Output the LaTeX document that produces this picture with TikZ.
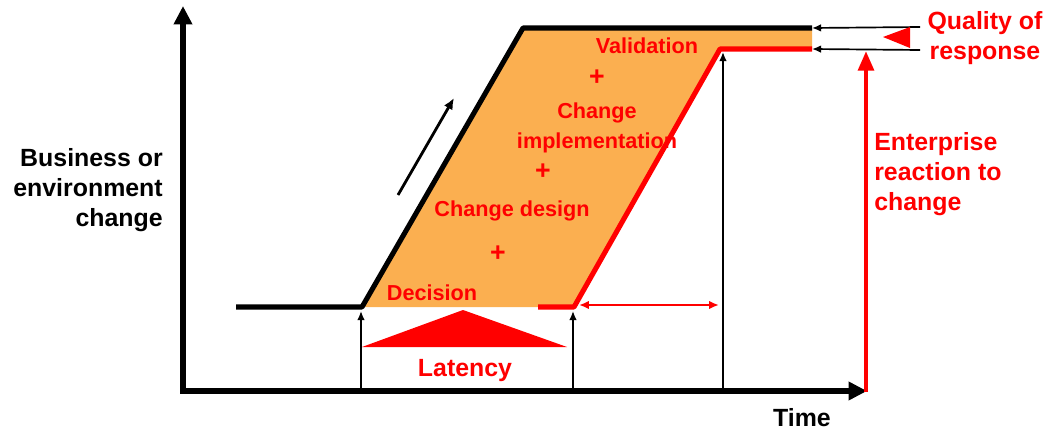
\documentclass[tikz,border=0pt]{standalone}
\usepackage{fontspec}
\setmainfont{Liberation Sans}
\usepackage{tikz}
\usetikzlibrary{arrows.meta}
\definecolor{latred}{RGB}{255,0,0}
\definecolor{phaseorange}{RGB}{251,175,80}

\begin{document}
\begin{tikzpicture}[x=0.025cm,y=-0.025cm,>=Latex,
  axis/.style={line width=4.2pt,-{Triangle[length=13pt,width=12.5pt]}},
  thinarrow/.style={line width=1.2pt,->,>={Latex[length=6.5pt,width=5.5pt]}},
  phase/.style={text=latred,font=\bfseries\fontsize{15.4}{21.3}\selectfont,align=center,inner sep=0pt},
  plus/.style={text=latred,font=\bfseries\fontsize{19}{21}\selectfont,inner sep=0pt},
  bigred/.style={text=latred,font=\bfseries\fontsize{17.7}{21.3}\selectfont,inner sep=0pt},
  bigblack/.style={text=black,font=\bfseries\fontsize{17.7}{21.3}\selectfont,inner sep=0pt}]
\useasboundingbox (0,0) rectangle (1048,433);

% corner points of the response curve
\coordinate (origin) at (183,391);
\coordinate (ytop) at (183,6);
\coordinate (xend) at (867,391);
\coordinate (base0) at (236,307);
\coordinate (trig) at (362,307);
\coordinate (top0) at (523,28);
\coordinate (top1) at (812,28);
\coordinate (react0) at (538,307);
\coordinate (react1) at (574,307);
\coordinate (done) at (720,49);
\coordinate (done1) at (812,49);

% the orange band
\fill[phaseorange] (trig) -- (top0) -- (top1) -- (done1) -- (done) -- (react1) -- cycle;

\draw[line width=3.6pt,line join=round] (base0) -- (trig) -- (top0) -- (top1);
\draw[latred,line width=3.6pt,line join=round] (react0) -- (react1) -- (done) -- (done1);

% axes
\draw[axis] (origin) -- (ytop);
\draw[axis] ([xshift=-2.1pt]origin) -- (xend);

% thin markers from the time axis
\foreach \x/\y in {361/311, 573/311, 723/52} {
\draw[thinarrow] (\x,389) -- (\x,\y); }

\draw[latred,line width=1.4pt,<->,>={Latex[length=7pt,width=6pt]}] (579,305) -- (719,305);

\coordinate (up0) at (398,195);
\coordinate (up1) at (454,98);
\draw[line width=2pt,->,>={Latex[length=8pt,width=7pt]}] (up0) -- (up1);

% latency triangle
\coordinate (latL) at (362,347);
\coordinate (latR) at (567,347);
\coordinate (latT) at (463,310);
\fill[latred] (latL) -- (latT) -- (latR) -- cycle;
\node[bigred] (latency) at (465,371) {Latency};

% phases
\node[phase] (decision) at (432,293) {Decision};
\node[plus] (plus1) at (498,254) {+};
\node[phase] (design) at (512,211) {Change design};
\node[plus] (plus2) at (543,172) {+};
\node[phase] (impl) at (597,128) {Change\\implementation};
\node[plus] (plus3) at (597,78) {+};
\node[phase] (valid) at (647,46) {Validation};

% quality of response
\coordinate (q0) at (920,27);
\coordinate (q1) at (920,50);
\draw[thinarrow] (q0) -- (top1);
\draw[thinarrow] (q1) -- (done1);
\fill[latred] (883,37) -- (910,27) -- (910,48) -- cycle;
\node[bigred,align=center] (quality) at (985,38) {Quality of\\response};

% enterprise reaction
\coordinate (reactbot) at (866,392);
\coordinate (reacttop) at (866,51);
\draw[latred,line width=3.2pt,-{Triangle[length=14pt,width=11pt]}] (reactbot) -- (reacttop);
\node[bigred,align=left,anchor=west] (enterprise) at (874,174) {Enterprise\\reaction to\\change};

\node[bigblack,align=right,anchor=east] (business) at (163,190) {Business or\\environment\\change};
\node[bigblack] (time) at (802,418) {Time};
\end{tikzpicture}
\end{document}
